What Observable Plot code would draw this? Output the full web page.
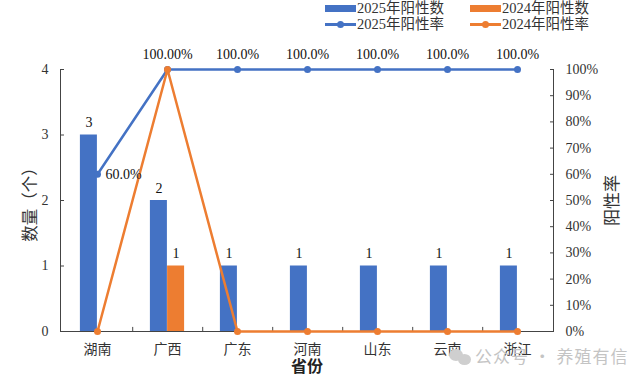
<!DOCTYPE html>
<html><head><meta charset="utf-8">
<script src="https://cdn.jsdelivr.net/npm/d3@7"></script>
<script src="https://cdn.jsdelivr.net/npm/@observablehq/plot@0.6"></script>
<style>
body{margin:0;background:#fff;font-family:"Times New Roman","Liberation Serif","DejaVu Serif","Noto Sans CJK SC",serif}
#wrap{position:relative;width:640px;height:383px;overflow:hidden}
.lg{position:absolute;font-size:14.5px;color:#333;line-height:15px;white-space:nowrap}
.sw{position:absolute}
.wm{position:absolute;left:475px;top:343px;font-family:"Noto Sans CJK SC",sans-serif;font-size:17px;color:#c4c4c4;letter-spacing:1px}
.ic{position:absolute;border-radius:50%;background:#cfcfcf}
</style></head><body><div id="wrap"></div>
<script>
const provinces = ["湖南","广西","广东","河南","山东","云南","浙江"];
const count2025 = [3,2,1,1,1,1,1];
const count2024 = [0,1,0,0,0,0,0];
const rate2025 = [0.6,1,1,1,1,1,1];
const rate2024 = [0,1,0,0,0,0,0];
const rateLabels2025 = ["60.0%","100.00%","100.0%","100.0%","100.0%","100.0%","100.0%"];
const countTicks = [0,1,2,3,4];
const rateTicks = [0,10,20,30,40,50,60,70,80,90,100];
const seriesNames = ["2025年阳性数","2024年阳性数","2025年阳性率","2024年阳性率"];

const blue = "#4472C4", orange = "#ED7D31";
const yMax = 4;
const idx = d3.range(provinces.length);
const font = "'Times New Roman', 'Liberation Serif', 'DejaVu Serif', 'Noto Sans CJK SC', serif";
const bw = (640 - 60 - 87) / provinces.length;

const chart = Plot.plot({
  width: 640, height: 383,
  marginTop: 69, marginBottom: 52, marginLeft: 60, marginRight: 87,
  style: {fontFamily: font, fontSize: "13px", color: "#333", background: "#fff"},
  x: {type: "band", domain: provinces, padding: 0, axis: null},
  y: {domain: [0, yMax], axis: null},
  marks: [
    Plot.barY(idx, {x: i => provinces[i], y: i => count2025[i], fill: blue, dx: -8.6, insetLeft: 26.5, insetRight: 26.5}),
    Plot.barY(idx, {x: i => provinces[i], y: i => count2024[i], fill: orange, dx: 8.6, insetLeft: 26.5, insetRight: 26.5}),
    Plot.text(idx.filter(i => count2025[i] > 0), {x: i => provinces[i], y: i => count2025[i], text: i => String(count2025[i]), dx: -8.6, dy: -12, fill: "#111", fontSize: 14}),
    Plot.text(idx.filter(i => count2024[i] > 0), {x: i => provinces[i], y: i => count2024[i], text: i => String(count2024[i]), dx: 8.6, dy: -12, fill: "#111", fontSize: 14}),
    Plot.ruleY([0], {stroke: "#444", strokeWidth: 1}),
    Plot.frame({anchor: "left", stroke: "#444"}),
    Plot.frame({anchor: "right", stroke: "#444"}),
    Plot.axisX({tickSize: 0, tickPadding: 13, fontSize: 14, fill: "#333", label: null}),
    Plot.link(provinces.slice(0, -1), {x1: d => d, x2: d => d, y1: () => 0, y2: () => 0.07, dx: bw / 2, stroke: "#444", strokeWidth: 1}),
    Plot.axisY(countTicks, {anchor: "left", tickSize: -4, tickPadding: 16, fontSize: 14, fill: "#333", stroke: "#444", tickFormat: d => String(d), label: null}),
    Plot.axisY(rateTicks.map(t => t / 100 * yMax), {anchor: "right", tickSize: -4, tickPadding: 16, fontSize: 14, fill: "#333", stroke: "#444", tickFormat: d => Math.round(d / yMax * 100) + "%", label: null}),
    Plot.line(idx, {x: i => provinces[i], y: i => rate2025[i] * yMax, stroke: blue, strokeWidth: 2.5}),
    Plot.dot(idx, {x: i => provinces[i], y: i => rate2025[i] * yMax, fill: blue, r: 3.5}),
    Plot.line(idx, {x: i => provinces[i], y: i => rate2024[i] * yMax, stroke: orange, strokeWidth: 2.5}),
    Plot.dot(idx, {x: i => provinces[i], y: i => rate2024[i] * yMax, fill: orange, r: 3.5}),
    Plot.text(idx.filter(i => rate2025[i] < 1), {x: i => provinces[i], y: i => rate2025[i] * yMax, text: i => rateLabels2025[i],
      dx: 8, textAnchor: "start", fill: "#111", fontSize: 14}),
    Plot.text(idx.filter(i => rate2025[i] >= 1), {x: i => provinces[i], y: i => rate2025[i] * yMax, text: i => rateLabels2025[i],
      dy: -15, textAnchor: "middle", fill: "#111", fontSize: 14}),
    Plot.text(["数量（个）"], {frameAnchor: "left", textAnchor: "middle", dx: -30, rotate: -90, fontSize: 16.5, fill: "#333"}),
    Plot.text(["阳性率"], {frameAnchor: "right", textAnchor: "middle", dx: 59, rotate: -90, fontSize: 17, fill: "#333"}),
    Plot.text(["省份"], {frameAnchor: "bottom", dy: 40, fontSize: 16, fontWeight: "bold", fill: "#222"})
  ]
});
const wrap = document.getElementById("wrap");
wrap.appendChild(chart);

// legend
const items = [
  {name: seriesNames[0], color: blue, kind: "bar", x: 325, y: 1},
  {name: seriesNames[1], color: orange, kind: "bar", x: 470, y: 1},
  {name: seriesNames[2], color: blue, kind: "line", x: 325, y: 17},
  {name: seriesNames[3], color: orange, kind: "line", x: 470, y: 17}
];
for (const it of items) {
  const sw = document.createElement("div");
  sw.className = "sw";
  if (it.kind === "bar") {
    Object.assign(sw.style, {left: it.x + "px", top: (it.y + 4) + "px", width: "31px", height: "7px", background: it.color});
  } else {
    Object.assign(sw.style, {left: it.x + "px", top: (it.y + 6) + "px", width: "31px", height: "2.5px", background: it.color});
    const dot = document.createElement("div");
    Object.assign(dot.style, {position: "absolute", left: "12px", top: "-2.5px", width: "7px", height: "7px", borderRadius: "50%", background: it.color});
    sw.appendChild(dot);
  }
  wrap.appendChild(sw);
  const t = document.createElement("div");
  t.className = "lg";
  t.style.left = (it.x + 32) + "px";
  t.style.top = it.y + "px";
  t.textContent = it.name;
  wrap.appendChild(t);
}
// watermark icon + text
for (const c of [{l: 449, t: 349, s: 14}, {l: 458, t: 354, s: 13}]) {
  const d = document.createElement("div");
  d.className = "ic";
  Object.assign(d.style, {left: c.l + "px", top: c.t + "px", width: c.s + "px", height: (c.s - 2) + "px"});
  wrap.appendChild(d);
}
const wm = document.createElement("div");
wm.className = "wm";
wm.textContent = "公众号 · 养殖有信";
wrap.appendChild(wm);
</script>
</body></html>
